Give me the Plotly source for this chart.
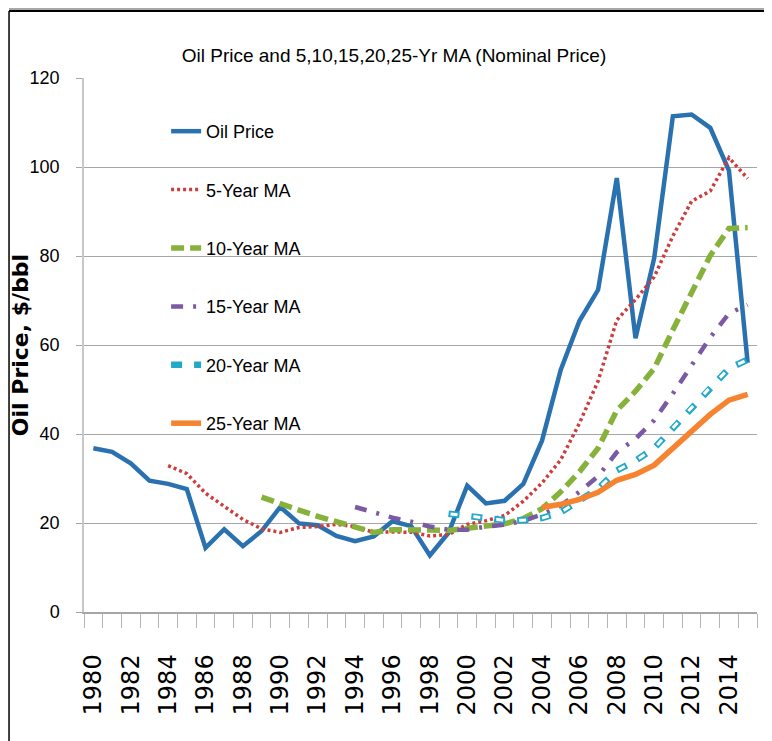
import plotly.graph_objects as go

years = list(range(1980, 2016))

oil_price = [36.8, 36.0, 33.4, 29.5, 28.8, 27.6, 14.4, 18.6, 14.8, 18.2,
             23.6, 19.9, 19.5, 17.1, 15.9, 17.0, 20.4, 19.3, 12.7, 17.8,
             28.4, 24.4, 25.0, 28.8, 38.5, 54.4, 65.4, 72.4, 97.5, 61.5,
             79.5, 111.4, 111.8, 108.8, 99.2, 56.0]

ma5_years = list(range(1984, 2016))
ma5 = [32.9, 31.1, 26.7, 23.8, 20.8, 18.7, 17.9, 19.0, 19.2, 19.7,
       19.2, 17.9, 18.0, 17.9, 17.1, 17.4, 19.7, 20.5, 21.7, 24.9,
       29.0, 34.2, 42.4, 51.9, 65.6, 70.2, 75.3, 84.5, 92.3, 94.6,
       102.1, 97.4]

ma10_years = list(range(1989, 2016))
ma10 = [25.8, 24.5, 22.9, 21.5, 20.3, 19.0, 17.9, 18.5, 18.6, 18.4,
        18.3, 18.8, 19.3, 19.8, 21.0, 23.2, 27.0, 31.5, 36.8, 45.3,
        49.6, 54.7, 63.4, 72.1, 80.1, 86.2, 86.4]

ma15_years = list(range(1994, 2016))
ma15 = [23.6, 22.3, 21.2, 20.3, 19.2, 18.5, 18.5, 19.2, 19.6, 20.5,
        21.9, 23.9, 27.0, 30.5, 35.9, 38.9, 43.1, 49.1, 55.3, 61.7,
        67.1, 69.0]

ma20_years = list(range(1999, 2016))
ma20 = [22.1, 21.6, 21.1, 20.6, 20.6, 21.1, 22.4, 25.0, 27.7, 31.8,
        34.0, 36.8, 41.3, 46.0, 50.5, 54.7, 56.7]

ma25_years = list(range(2004, 2016))
ma25 = [23.5, 24.2, 25.3, 26.9, 29.6, 30.9, 33.0, 36.9, 40.6, 44.4,
        47.6, 48.9]

tick_years = list(range(1980, 2016, 2))
tick_labels = [str(y) for y in tick_years]
y_ticks = [0, 20, 40, 60, 80, 100, 120]

NARROW = "Liberation Sans Narrow, Arial Narrow, Liberation Sans, Arial, sans-serif"
WIDE = "DejaVu Sans, Verdana, sans-serif"
LEG_FONT = dict(family=NARROW, size=18, color="black")

fig = go.Figure()

fig.add_trace(go.Scatter(x=years, y=oil_price, mode="lines", name="Oil Price",
                         legendgroup="g1",
                         line=dict(color="#2A71B0", width=4.5)))
fig.add_trace(go.Scatter(x=ma5_years, y=ma5, mode="lines", name="5-Year MA",
                         legendgroup="g2",
                         line=dict(color="#CC3D3B", width=3.5, dash="3px,3px")))
fig.add_trace(go.Scatter(x=ma10_years, y=ma10, mode="lines", name="10-Year MA",
                         legendgroup="g3",
                         line=dict(color="#86B23C", width=5.5, dash="13px,6px")))
fig.add_trace(go.Scatter(x=ma15_years, y=ma15, mode="lines", name="15-Year MA",
                         legendgroup="g4",
                         line=dict(color="#7A5BA3", width=4.5, dash="12px,10px,3px,10px")))
fig.add_trace(go.Scatter(x=ma20_years, y=ma20, mode="lines", name="20-Year MA",
                         legendgroup="g5",
                         line=dict(color="#22A8C9", width=6.5, dash="11px,12px")))
fig.add_trace(go.Scatter(x=ma20_years, y=ma20, mode="lines", name="20-Year MA",
                         legendgroup="g5", showlegend=False, hoverinfo="skip",
                         line=dict(color="white", width=3, dash="0px,2px,7px,14px")))
fig.add_trace(go.Scatter(x=ma25_years, y=ma25, mode="lines", name="25-Year MA",
                         legendgroup="g6",
                         line=dict(color="#F5832F", width=5.5)))

# chart frame (top border with shadow band, left border)
fig.add_shape(type="rect", xref="paper", yref="paper", x0=-0.1114, x1=1.1,
              y0=1.1255, y1=1.135, fillcolor="#A8A8A8", line=dict(width=0))
fig.add_shape(type="line", xref="paper", yref="paper", x0=-0.1114, x1=1.1,
              y0=1.1255, y1=1.1255, line=dict(color="black", width=2))
fig.add_shape(type="line", xref="paper", yref="paper", x0=-0.1114, x1=-0.1114,
              y0=1.1255, y1=-0.3, line=dict(color="black", width=1.5))

fig.update_layout(
    width=764, height=733,
    margin=dict(l=76, r=15, t=70, b=129, autoexpand=False),
    paper_bgcolor="white", plot_bgcolor="white",
    title=dict(text="Oil Price and 5,10,15,20,25-Yr MA (Nominal Price)",
               x=0.5052, xref="container", xanchor="center",
               y=0.936, yref="container", yanchor="middle",
               font=dict(family=NARROW, size=19, color="black")),
    showlegend=True,
    legend=dict(x=0.122, xanchor="left", y=0.9345, yanchor="top",
                bgcolor="rgba(0,0,0,0)", font=LEG_FONT,
                traceorder="grouped", tracegroupgap=32, borderwidth=0),
    xaxis=dict(range=[1979.5, 2015.5], tickmode="array", tickvals=tick_years, ticktext=tick_labels,
               tickangle=-90, ticks="", ticklabelstandoff=31,
               tickfont=dict(family=WIDE, size=24, color="black"),
               showgrid=False, zeroline=False,
               showline=True, linecolor="#A6A6A6", linewidth=1.5,
               minor=dict(tickmode="array",
                          tickvals=[y - 0.5 for y in years] + [years[-1] + 0.5],
                          ticks="outside", ticklen=14, tickcolor="#B5B5B5", tickwidth=1,
                          showgrid=False)),
    yaxis=dict(range=[0, 120], tickmode="array", tickvals=y_ticks,
               ticks="outside", ticklen=6, tickcolor="#A6A6A6", ticklabelstandoff=13,
               tickfont=dict(family=NARROW, size=18, color="black"),
               showgrid=True, gridcolor="#A6A6A6", gridwidth=1.3,
               zeroline=False, showline=True, linecolor="#C8C8C8", linewidth=1.5,
               title=dict(text="Oil Price, $/bbl", standoff=0,
                          font=dict(family=WIDE, size=22, color="black", weight="bold"))),
)

fig.write_html("out.html")
